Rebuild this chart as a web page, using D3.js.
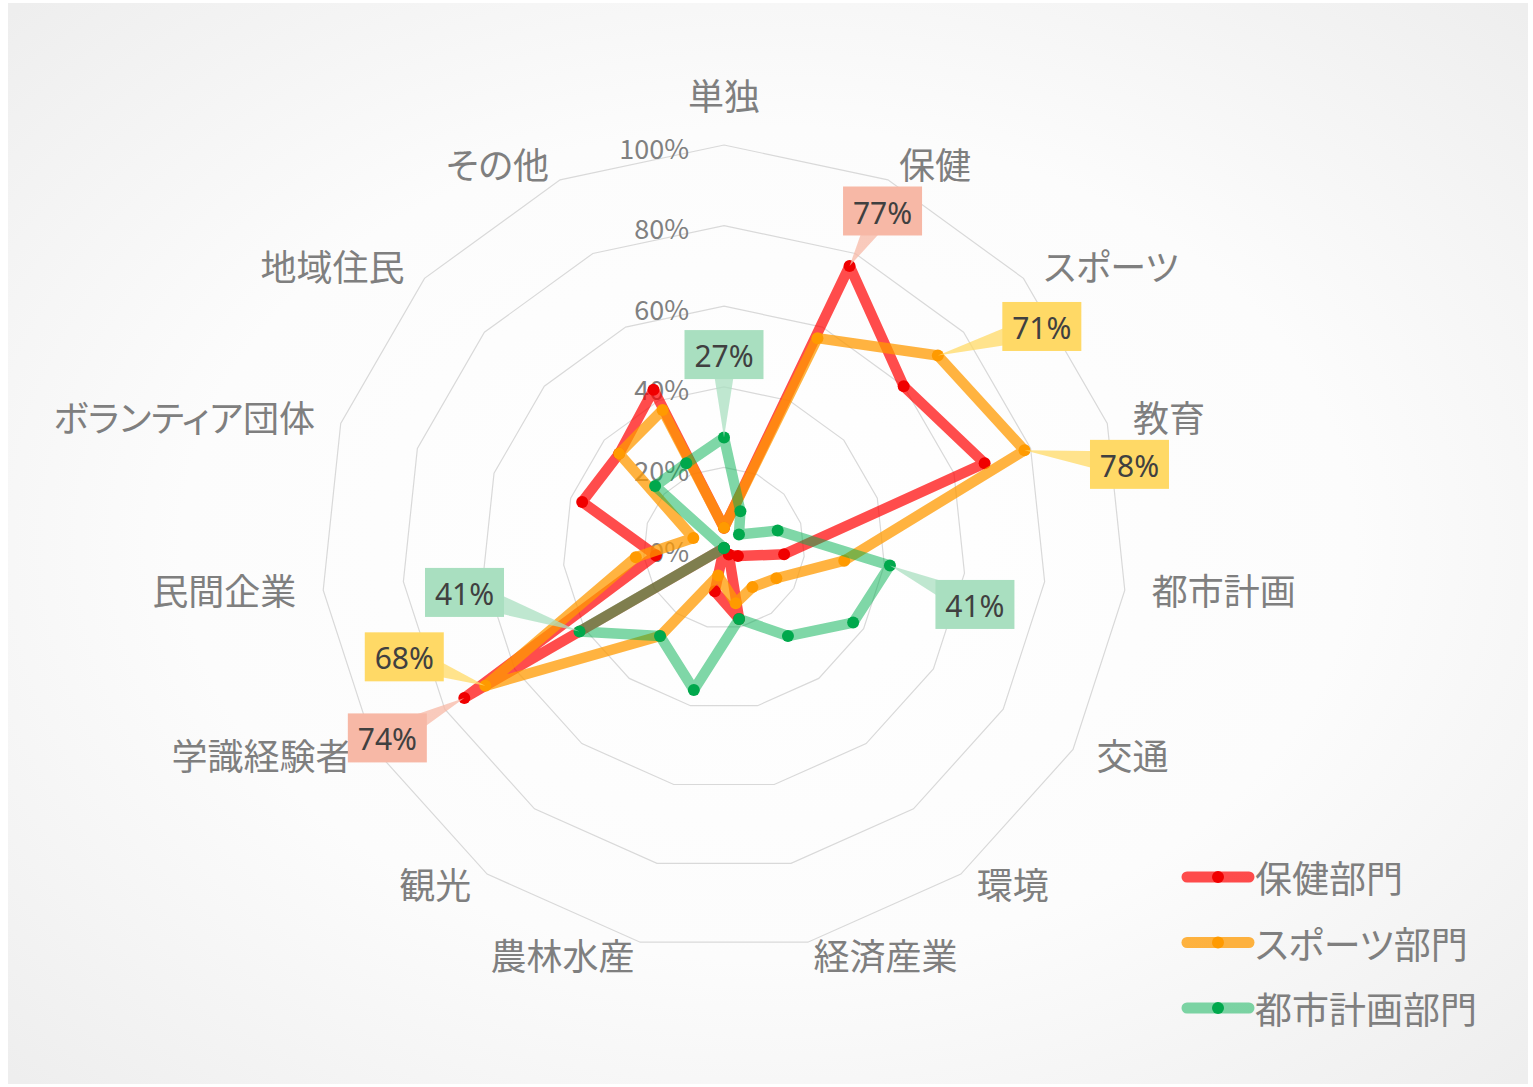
<!DOCTYPE html>
<html>
<head>
<meta charset="utf-8">
<script src="https://cdn.jsdelivr.net/npm/d3@7"></script>
<style>
  html, body { margin: 0; padding: 0; background: #fff; }
  svg { display: block; font-family: "Noto Sans CJK JP", "Noto Sans", sans-serif; }
  .cat { font-feature-settings: "palt" 1; }
</style>
</head>
<body>
<div id="chart"></div>
<script>
// categories clockwise from the top
const categories = ['単独', '保健', 'スポーツ', '教育', '都市計画', '交通', '環境', '経済産業',
  '農林水産', '観光', '学識経験者', '民間企業', 'ボランティア団体', '地域住民', 'その他'];
const seriesNames = ['保健部門', 'スポーツ部門', '都市計画部門'];
const healthValues = [0.05, 0.766, 0.60, 0.68, 0.15, 0.04, 0.02, 0.18, 0.11, 0.00, 0.744, 0.17, 0.37, 0.35, 0.43];
const sportsValues = [0.05, 0.57, 0.714, 0.784, 0.30, 0.15, 0.12, 0.14, 0.07, 0.27, 0.684, 0.22, 0.08, 0.35, 0.375];
const urbanValues = [0.274, 0.10, 0.05, 0.14, 0.414, 0.37, 0.27, 0.18, 0.36, 0.27, 0.414, 0.00, 0.00, 0.23, 0.23];
const ticks = [0, 0.2, 0.4, 0.6, 0.8, 1.0];

// which points carry a callout (series index, category index) and where the box sits
const callouts = [
  { s: 0, c: 1, dx: 33, dy: -55 },
  { s: 1, c: 2, dx: 104, dy: -29 },
  { s: 1, c: 3, dx: 105, dy: 14 },
  { s: 2, c: 4, dx: 85, dy: 39 },
  { s: 2, c: 0, dx: 0, dy: -83 },
  { s: 2, c: 10, dx: -115, dy: -39 },
  { s: 1, c: 10, dx: -81, dy: -29 },
  { s: 0, c: 10, dx: -77, dy: 40 }
];

const width = 1533, height = 1087;
const cx = 724, cy = 548, R = 403;
const lineColors = ['#FF0000', '#FF9900', '#00B050'];
const lineOpacity = [0.7, 0.75, 0.5];
const dotColors = ['#F00000', '#FF9A00', '#00A84C'];
const boxColors = ['#F7B8A6', '#FFD966', '#A9DFC0'];
const allValues = [healthValues, sportsValues, urbanValues];

const svg = d3.select('#chart').append('svg')
  .attr('width', width).attr('height', height);

const defs = svg.append('defs');
const grad = defs.append('radialGradient').attr('id', 'bg')
  .attr('cx', '50%').attr('cy', '50%').attr('r', '70%');
grad.append('stop').attr('offset', '0%').attr('stop-color', '#FFFFFF');
grad.append('stop').attr('offset', '55%').attr('stop-color', '#FCFCFC');
grad.append('stop').attr('offset', '100%').attr('stop-color', '#EEEEEE');

svg.append('rect')
  .attr('x', 8).attr('y', 3).attr('width', 1520).attr('height', 1081)
  .attr('fill', 'url(#bg)');

const angle = d3.scalePoint().domain(d3.range(categories.length))
  .range([0, 2 * Math.PI * (categories.length - 1) / categories.length]);
const r = d3.scaleLinear().domain([0, 1]).range([0, R]);

const g = svg.append('g').attr('transform', `translate(${cx},${cy})`);

// grid rings
const ring = d3.lineRadial()
  .angle((d, i) => angle(i))
  .radius(d => r(d))
  .curve(d3.curveLinearClosed);

g.selectAll('.ring')
  .data(ticks.filter(t => t > 0))
  .enter().append('path')
  .attr('d', t => ring(categories.map(() => t)))
  .attr('fill', 'none')
  .attr('stroke', '#D9D9D9')
  .attr('stroke-width', 1.2);

// tick labels
g.selectAll('.tick')
  .data(ticks)
  .enter().append('text')
  .attr('x', -35)
  .attr('y', t => -r(t) + 2)
  .attr('text-anchor', 'end')
  .attr('dominant-baseline', 'central')
  .attr('font-size', 27)
  .attr('fill', '#808080')
  .text(d3.format('.0%'));

// category labels
g.selectAll('.cat')
  .data(categories)
  .enter().append('text')
  .attr('class', 'cat')
  .attr('x', (d, i) => 430 * Math.sin(angle(i)))
  .attr('y', (d, i) => {
    const a = angle(i);
    if (Math.abs(Math.sin(a)) < 0.01) return -454;
    return -418 * Math.cos(a) - 3;
  })
  .attr('text-anchor', (d, i) => {
    const s = Math.sin(angle(i));
    return Math.abs(s) < 0.01 ? 'middle' : (s > 0 ? 'start' : 'end');
  })
  .attr('dominant-baseline', 'central')
  .attr('font-size', 36)
  .attr('fill', '#7F7F7F')
  .text(d => d);

// series
const line = d3.lineRadial()
  .angle((d, i) => angle(i))
  .radius(d => r(d))
  .curve(d3.curveLinearClosed);

const pt = (v, i) => [r(v) * Math.sin(angle(i)), -r(v) * Math.cos(angle(i))];

allValues.forEach((vals, s) => {
  g.append('path')
    .attr('d', line(vals))
    .attr('fill', 'none')
    .attr('stroke', lineColors[s])
    .attr('stroke-opacity', lineOpacity[s])
    .attr('stroke-width', 10.5)
    .attr('stroke-linejoin', 'round')
    .attr('stroke-linecap', 'round');

  g.selectAll('.dot' + s)
    .data(vals)
    .enter().append('circle')
    .attr('cx', (v, i) => pt(v, i)[0])
    .attr('cy', (v, i) => pt(v, i)[1])
    .attr('r', 6)
    .attr('fill', dotColors[s]);
});

// callouts
const fmt = d3.format('.0%');
callouts.forEach(c => {
  const [px, py] = pt(allValues[c.s][c.c], c.c);
  const bx = px + c.dx, by = py + c.dy;
  const len = Math.hypot(px - bx, py - by);
  const nx = -(py - by) / len, ny = (px - bx) / len;
  const hw = 13;
  const co = g.append('g');
  co.append('path')
    .attr('d', `M${bx + nx * hw},${by + ny * hw}L${px},${py}L${bx - nx * hw},${by - ny * hw}Z`)
    .attr('fill', boxColors[c.s])
    .attr('fill-opacity', 0.75);
  const bw = 79, bh = 49;
  co.append('rect')
    .attr('x', bx - bw / 2).attr('y', by - bh / 2)
    .attr('width', bw).attr('height', bh)
    .attr('fill', boxColors[c.s]);
  co.append('text')
    .attr('x', bx).attr('y', by + 1)
    .attr('text-anchor', 'middle')
    .attr('dominant-baseline', 'central')
    .attr('font-family', '"Noto Sans", sans-serif')
    .attr('font-size', 30)
    .attr('fill', '#404040')
    .text(fmt(allValues[c.s][c.c]));
});

// legend
const legend = svg.append('g').attr('transform', 'translate(1183,877)');
seriesNames.forEach((name, s) => {
  const row = legend.append('g').attr('transform', `translate(0,${s * 65.5})`);
  row.append('line')
    .attr('x1', 4).attr('x2', 66).attr('y1', 0).attr('y2', 0)
    .attr('stroke', lineColors[s])
    .attr('stroke-opacity', lineOpacity[s])
    .attr('stroke-width', 11)
    .attr('stroke-linecap', 'round');
  row.append('circle')
    .attr('cx', 35).attr('cy', 0).attr('r', 6)
    .attr('fill', dotColors[s]);
  row.append('text')
    .attr('class', 'cat')
    .attr('x', 72).attr('y', 0)
    .attr('dominant-baseline', 'central')
    .attr('font-size', 37)
    .attr('fill', '#7F7F7F')
    .text(name);
});
</script>
</body>
</html>
